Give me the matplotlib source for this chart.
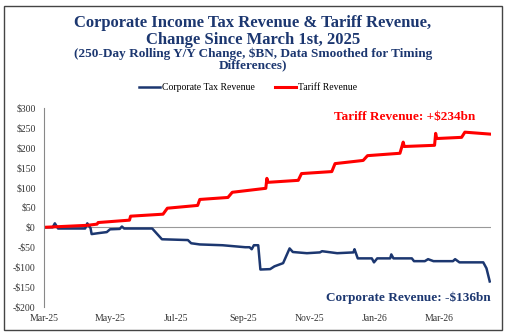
import matplotlib.pyplot as plt
import matplotlib.dates as mdates
import matplotlib.patches as patches
import pandas as pd

start = pd.Timestamp("2025-03-01")

# Tariff revenue, change since Mar 1 2025 ($bn), by day offset
tariff_days = [0, 40, 49, 50, 79, 80, 110, 114, 142, 144, 170, 174, 205, 206, 207,
               235, 238, 266, 269, 295, 299, 329, 332, 333, 361, 362, 363, 386, 389, 413]
tariff_vals = [0, 5, 8, 12, 18, 28, 33, 48, 55, 70, 75, 88, 98, 123, 113,
               118, 135, 140, 160, 168, 180, 186, 214, 203, 206, 236, 223, 226, 239, 234]

# Corporate tax revenue, change since Mar 1 2025 ($bn)
corp_days = [0, 8, 10, 13, 38, 40, 43, 44, 52, 58, 61, 70, 72, 74, 100, 109, 133, 136,
             144, 165, 186, 190, 192, 194, 198, 200, 209, 213, 221, 227, 230, 243, 255,
             257, 271, 286, 287, 290, 303, 305, 308, 320, 321, 323, 340, 342, 352, 355,
             360, 378, 380, 384, 406, 409, 412]
corp_vals = [0, 0, 10, -3, -3, 10, -2, -17, -14, -12, -5, -4, 2, -3, -3, -30, -32, -40,
             -43, -45, -50, -50, -55, -45, -45, -106, -105, -98, -90, -53, -62, -65, -63,
             -60, -65, -63, -55, -78, -78, -88, -78, -78, -68, -78, -78, -85, -85, -80,
             -85, -85, -80, -88, -88, -103, -136]

tariff_dates = start + pd.to_timedelta(tariff_days, unit="D")
corp_dates = start + pd.to_timedelta(corp_days, unit="D")

navy = "#1c3770"
red = "#ff0000"
plt.rcParams["font.family"] = ["Liberation Serif", "DejaVu Serif"]

fig = plt.figure(figsize=(5.06, 3.34), dpi=100)
ax = fig.add_axes([0.087, 0.081, 0.883, 0.596])

ax.plot(corp_dates, corp_vals, color=navy, lw=1.8, label="Corporate Tax Revenue")
ax.plot(tariff_dates, tariff_vals, color=red, lw=2.2, label="Tariff Revenue")
ax.axhline(0, color="#999999", lw=0.8, zorder=0)

ax.set_ylim(-200, 300)
ax.set_xlim(start, start + pd.Timedelta(days=413))
ax.set_yticks(range(-200, 301, 50))
ax.set_yticklabels([f"-${-v}" if v < 0 else f"${v}" for v in range(-200, 301, 50)])
ax.xaxis.set_major_locator(mdates.MonthLocator(bymonth=[1, 3, 5, 7, 9, 11]))
ax.xaxis.set_major_formatter(mdates.DateFormatter("%b-%y"))
ax.tick_params(axis="both", length=0, labelsize=7, colors="#333333")
ax.tick_params(axis="x", pad=5)
ax.tick_params(axis="y", pad=6)
for s in ["top", "right", "bottom"]:
    ax.spines[s].set_visible(False)
ax.spines["left"].set_color("#888888")
ax.spines["left"].set_linewidth(0.8)

ax.text(0.965, 0.955, "Tariff Revenue: +$234bn", transform=ax.transAxes, color=red,
        fontsize=9.5, fontweight="bold", ha="right", va="center")
ax.text(1.0, 0.045, "Corporate Revenue: -$136bn", transform=ax.transAxes, color=navy,
        fontsize=9.5, fontweight="bold", ha="right", va="center")

fig.legend(loc="center", bbox_to_anchor=(0.49, 0.737), ncol=2, frameon=False,
           fontsize=7, handlelength=2.2, handletextpad=0.2, columnspacing=2.0)

fig.text(0.5, 0.905, "Corporate Income Tax Revenue & Tariff Revenue,\nChange Since March 1st, 2025",
         ha="center", va="center", color=navy, fontsize=12, fontweight="bold", linespacing=1.1)
fig.text(0.5, 0.822, "(250-Day Rolling Y/Y Change, $BN, Data Smoothed for Timing\nDifferences)",
         ha="center", va="center", color=navy, fontsize=9.5, fontweight="bold", linespacing=1.0)

fig.add_artist(patches.Rectangle((4 / 506, 4 / 334), 498 / 506, 324 / 334, transform=fig.transFigure,
                                 fill=False, edgecolor="#444444", lw=1.0))

fig.savefig("out.png", dpi=100)
